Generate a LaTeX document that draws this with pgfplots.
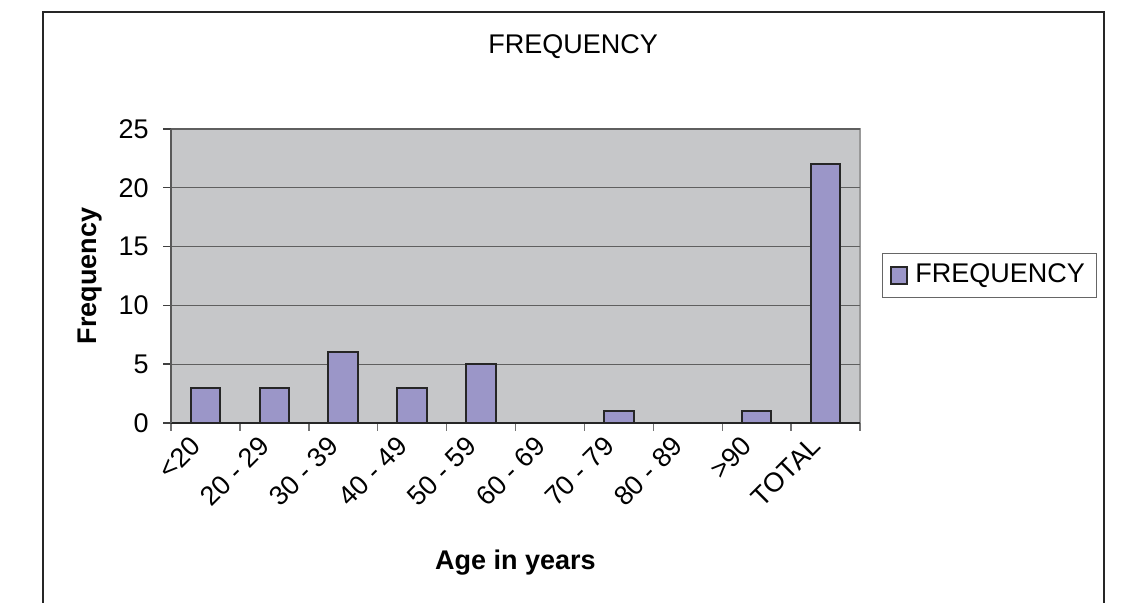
\documentclass[border=0pt]{standalone}
\usepackage{pgfplots}
\pgfplotsset{compat=1.18}
\usepackage{fontspec}
\setmainfont{Liberation Sans}
\definecolor{barfill}{RGB}{155,150,200}
\definecolor{plotbg}{RGB}{198,199,201}
\definecolor{gridc}{RGB}{95,95,95}
\begin{document}
\fontsize{13.5bp}{16bp}\selectfont
\begin{tikzpicture}
\useasboundingbox (0bp,0bp) rectangle (567.5bp,301.5bp);
\draw[line width=1bp, draw=black!85] (21.5bp,295.5bp) rectangle (552bp,-5bp);
\begin{axis}[
  at={(85.5bp,90bp)}, anchor=south west,
  scale only axis, width=344.5bp, height=147bp,
  xmin=-0.5, xmax=9.5, ymin=0, ymax=25,
  axis lines*=left,
  axis background/.style={fill=plotbg, draw=black!40, line width=0.7bp},
  x axis line style={draw=black!85, line width=0.8bp},
  y axis line style={draw=black!65, line width=0.8bp},
  xtick={0,...,9},
  xticklabels={<20,20 - 29,30 - 39,40 - 49,50 - 59,60 - 69,70 - 79,80 - 89,>90,TOTAL},
  minor xtick={-0.5,0.5,...,9.5},
  major x tick style={draw=none},
  minor x tick style={draw=black!55, line width=0.7bp},
  ytick={0,5,...,25},
  y tick style={draw=black!75, line width=0.7bp},
  major tick length=4bp, minor tick length=4bp,
  tick align=outside,
  ymajorgrids,
  major grid style={draw=gridc, line width=0.6bp},
  /pgf/number format/assume math mode=true,
  xticklabel style={xshift=-4bp, yshift=-4.5bp, rotate=45, anchor=east, inner sep=1bp},
  yticklabel style={inner sep=2bp, xshift=-5bp},
  every axis title shift=0pt,
  title={FREQUENCY},
  title style={at={(0.5835,1.279)}, anchor=center},
  xlabel={\bfseries Age in years},
  xlabel style={at={(0.5,-0.476)}, anchor=center},
  ylabel={\bfseries Frequency},
  ylabel style={at={(-0.1176,0.5)}, anchor=center},
  legend style={at={(1.188,0.5017)}, anchor=center, draw=black!60, line width=0.5bp,
    fill=white, inner xsep=4bp, inner ysep=3.5bp, column sep=1.5bp},
  ybar, bar width=0.43,
]
\addplot[fill=barfill, draw=black!85, line width=1bp,
  legend image code/.code={\draw[fill=barfill, draw=black!85, line width=1bp] (0bp,-4bp) rectangle (8bp,4bp);}]
  coordinates {(0,3) (1,3) (2,6) (3,3) (4,5) (5,0) (6,1) (7,0) (8,1) (9,22)};
\addlegendentry{FREQUENCY}
\end{axis}
\end{tikzpicture}
\end{document}
